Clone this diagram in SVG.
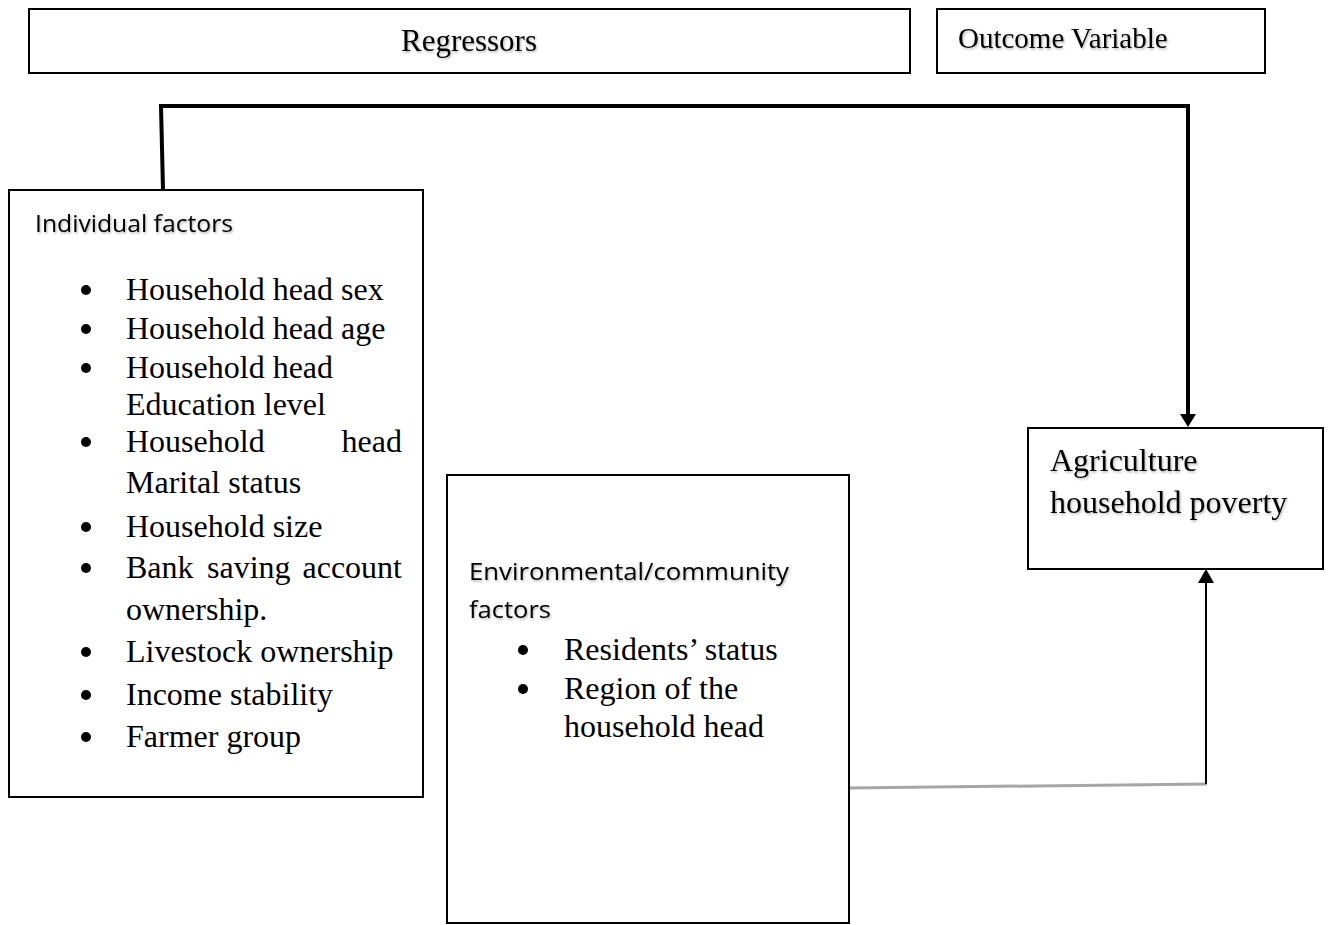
<svg xmlns="http://www.w3.org/2000/svg" width="1328" height="925" viewBox="0 0 1328 925">
<style>
.box{fill:#fff;stroke:#000;stroke-width:2}
.tnr{font-family:"Liberation Serif","Times New Roman",serif;font-size:32px;fill:#000}
.cal{font-family:"Open Sans","Liberation Sans",sans-serif;font-size:24px;fill:#000}
.hdr{font-family:"Liberation Serif","Times New Roman",serif;fill:#000}
.sh{filter:url(#shadow)}
.bul{fill:#000}
.thick{stroke:#000;stroke-width:4;fill:none}
</style>
<defs>
<filter id="shadow" x="-5%" y="-20%" width="110%" height="150%">
<feDropShadow dx="1" dy="1.5" stdDeviation="0.8" flood-color="#000" flood-opacity="0.3"/>
</filter>
</defs>
<rect width="1328" height="925" fill="#fff"/>

<g id="regressors">
<rect class="box" x="29" y="9" width="881" height="64" stroke-width="1.5"/>
<text class="hdr sh" x="469" y="51" font-size="31" text-anchor="middle">Regressors</text>
</g>

<g id="outcome-variable">
<rect class="box" x="937" y="9" width="328" height="64" stroke-width="1.5"/>
<text class="hdr sh" x="958" y="48" font-size="29">Outcome Variable</text>
</g>

<g id="connectors">
<path class="thick" d="M163 190 L161 106 L1190 106"/>
<line x1="1188" y1="106" x2="1188" y2="415" stroke="#000" stroke-width="4"/>
<path d="M1180 414 L1196 414 L1188 427 Z" fill="#000"/>
<line x1="849" y1="788" x2="1207" y2="784" stroke="#a6a6a6" stroke-width="3"/>
<line x1="1206" y1="784" x2="1206" y2="582" stroke="#000" stroke-width="2"/>
<path d="M1198 583 L1214 583 L1206 569 Z" fill="#000"/>
</g>

<g id="individual-factors">
<rect class="box" x="9" y="190" width="414" height="607"/>
<text class="cal sh" x="35" y="232" textLength="198" lengthAdjust="spacingAndGlyphs">Individual factors</text>
<g class="bul">
<circle cx="86" cy="290" r="5"/>
<circle cx="86" cy="329" r="5"/>
<circle cx="86" cy="368" r="5"/>
<circle cx="86" cy="442" r="5"/>
<circle cx="86" cy="527" r="5"/>
<circle cx="86" cy="568" r="5"/>
<circle cx="86" cy="652" r="5"/>
<circle cx="86" cy="695" r="5"/>
<circle cx="86" cy="737" r="5"/>
</g>
<text class="tnr" x="126" y="300">Household head sex</text>
<text class="tnr" x="126" y="339">Household head age</text>
<text class="tnr" x="126" y="378">Household head</text>
<text class="tnr" x="126" y="415">Education level</text>
<text class="tnr" x="126" y="452">Household</text>
<text class="tnr" x="402" y="452" text-anchor="end">head</text>
<text class="tnr" x="126" y="493">Marital status</text>
<text class="tnr" x="126" y="537">Household size</text>
<text class="tnr" x="126" y="578">Bank</text>
<text class="tnr" x="207" y="578">saving</text>
<text class="tnr" x="402" y="578" text-anchor="end">account</text>
<text class="tnr" x="126" y="620">ownership.</text>
<text class="tnr" x="126" y="662">Livestock ownership</text>
<text class="tnr" x="126" y="705">Income stability</text>
<text class="tnr" x="126" y="747">Farmer group</text>
</g>

<g id="environmental-community-factors">
<rect class="box" x="447" y="475" width="402" height="448"/>
<text class="cal sh" x="469" y="580" textLength="320" lengthAdjust="spacingAndGlyphs">Environmental/community</text>
<text class="cal sh" x="469" y="618" textLength="82" lengthAdjust="spacingAndGlyphs">factors</text>
<g class="bul">
<circle cx="523" cy="650" r="5"/>
<circle cx="523" cy="689" r="5"/>
</g>
<text class="tnr" x="564" y="660">Residents’ status</text>
<text class="tnr" x="564" y="699">Region of the</text>
<text class="tnr" x="564" y="737">household head</text>
</g>

<g id="agriculture-household-poverty">
<rect class="box" x="1028" y="428" width="295" height="141" stroke-width="1.5"/>
<text class="tnr sh" x="1050" y="471">Agriculture</text>
<text class="tnr sh" x="1050" y="513">household poverty</text>
</g>
</svg>
